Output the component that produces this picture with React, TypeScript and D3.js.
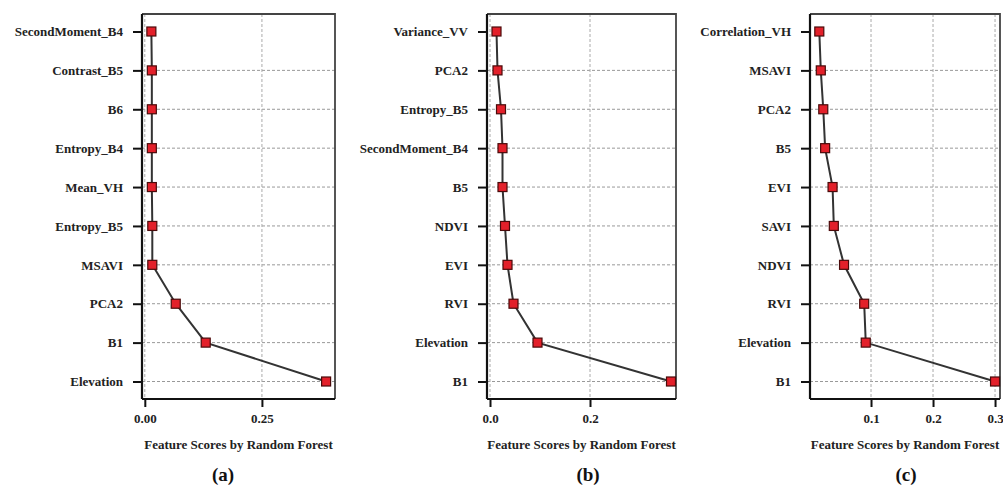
import React, { useEffect, useRef } from "react";
import * as d3 from "d3";

// panel (a)
const labelsA = ["SecondMoment_B4", "Contrast_B5", "B6", "Entropy_B4", "Mean_VH", "Entropy_B5", "MSAVI", "PCA2", "B1", "Elevation"];
const scoresA = [0.014, 0.015, 0.015, 0.015, 0.015, 0.016, 0.016, 0.066, 0.13, 0.387];
// panel (b)
const labelsB = ["Variance_VV", "PCA2", "Entropy_B5", "SecondMoment_B4", "B5", "NDVI", "EVI", "RVI", "Elevation", "B1"];
const scoresB = [0.013, 0.015, 0.022, 0.025, 0.025, 0.03, 0.035, 0.047, 0.095, 0.362];
// panel (c)
const labelsC = ["Correlation_VH", "MSAVI", "PCA2", "B5", "EVI", "SAVI", "NDVI", "RVI", "Elevation", "B1"];
const scoresC = [0.0166, 0.019, 0.023, 0.026, 0.038, 0.04, 0.0565, 0.089, 0.0915, 0.3];

const ticksA = [0, 0.25];
const ticksB = [0, 0.2];
const ticksC = [0.1, 0.2, 0.3];

const axisTitle = "Feature Scores by Random Forest";

const panels = [
  { labels: labelsA, scores: scoresA, ticks: ticksA, fmt: ".2f", domain: [-0.006, 0.406], x0: 142, x1: 335, tag: "(a)", tagX: 223 },
  { labels: labelsB, scores: scoresB, ticks: ticksB, fmt: ".1f", domain: [-0.006, 0.372], x0: 487, x1: 676, tag: "(b)", tagX: 588 },
  { labels: labelsC, scores: scoresC, ticks: ticksC, fmt: ".1f", domain: [0.0016, 0.308], x0: 810, x1: 1000, tag: "(c)", tagX: 906 },
];

const W = 1003, H = 488;
const top = 14, bottom = 399;
const font = "Liberation Serif";

export default function App() {
  const ref = useRef<SVGSVGElement>(null);

  useEffect(() => {
    const svg = d3.select(ref.current);
    svg.selectAll("*").remove();

    panels.forEach((p) => {
      const g = svg.append("g");
      const x = d3.scaleLinear().domain(p.domain).range([p.x0, p.x1]);
      const y = d3.scalePoint().domain(p.labels).range([top, bottom]).padding(0.45);
      const data = p.labels.map((l, i) => ({ label: l, v: p.scores[i] }));

      // grid
      g.selectAll(".hgrid")
        .data(p.labels.slice(1))
        .join("line")
        .attr("x1", p.x0).attr("x2", p.x1)
        .attr("y1", (d) => y(d)!).attr("y2", (d) => y(d)!)
        .attr("stroke", "#999").attr("stroke-width", 1)
        .attr("stroke-dasharray", "3,2");
      g.selectAll(".vgrid")
        .data(p.ticks)
        .join("line")
        .attr("x1", (d) => x(d)).attr("x2", (d) => x(d))
        .attr("y1", top).attr("y2", bottom)
        .attr("stroke", "#aaa").attr("stroke-width", 1)
        .attr("stroke-dasharray", "3,2");

      // frame top/right
      g.append("path")
        .attr("d", `M${p.x0},${top}H${p.x1}V${bottom}`)
        .attr("fill", "none").attr("stroke", "#444").attr("stroke-width", 1.8);

      // axes
      const ax = g.append("g")
        .attr("transform", `translate(0,${bottom})`)
        .call(d3.axisBottom(x).tickValues(p.ticks).tickFormat(d3.format(p.fmt)).tickSizeInner(8).tickSizeOuter(0).tickPadding(7));
      const ay = g.append("g")
        .attr("transform", `translate(${p.x0},0)`)
        .call(d3.axisLeft(y).tickSizeInner(9).tickSizeOuter(0).tickPadding(10));
      [ax, ay].forEach((a) => {
        a.select(".domain").attr("stroke", "#111").attr("stroke-width", 2.2);
        a.selectAll(".tick line").attr("stroke", "#111").attr("stroke-width", 2);
        a.selectAll(".tick text")
          .attr("font-family", font).attr("font-weight", "bold")
          .attr("font-size", 13).attr("fill", "#222");
      });
      ax.select(".domain").attr("d", `M${p.x0},0H${p.x1}`);
      ay.select(".domain").attr("d", `M0,${top}V${bottom}`);

      // line + markers
      const line = d3.line<{ label: string; v: number }>()
        .x((d) => x(d.v))
        .y((d) => y(d.label)!);
      g.append("path")
        .datum(data)
        .attr("fill", "none").attr("stroke", "#333").attr("stroke-width", 2)
        .attr("d", line);
      g.selectAll(".mk")
        .data(data)
        .join("rect")
        .attr("x", (d) => x(d.v) - 4.5).attr("y", (d) => y(d.label)! - 4.5)
        .attr("width", 9).attr("height", 9)
        .attr("fill", "#e3202a").attr("stroke", "#4a0a0a").attr("stroke-width", 1.2);

      // titles
      g.append("text")
        .attr("x", (p.x0 + p.x1) / 2).attr("y", 449)
        .attr("text-anchor", "middle")
        .attr("font-family", font).attr("font-weight", "bold")
        .attr("font-size", 13).attr("fill", "#222")
        .text(axisTitle);
      g.append("text")
        .attr("x", p.tagX).attr("y", 481)
        .attr("text-anchor", "middle")
        .attr("font-family", font).attr("font-weight", "bold")
        .attr("font-size", 19).attr("fill", "#111")
        .text(p.tag);
    });
  }, []);

  return (
    <svg ref={ref} width={W} height={H}
      style={{ position: "absolute", left: 0, top: 0, background: "#fff" }} />
  );
}
